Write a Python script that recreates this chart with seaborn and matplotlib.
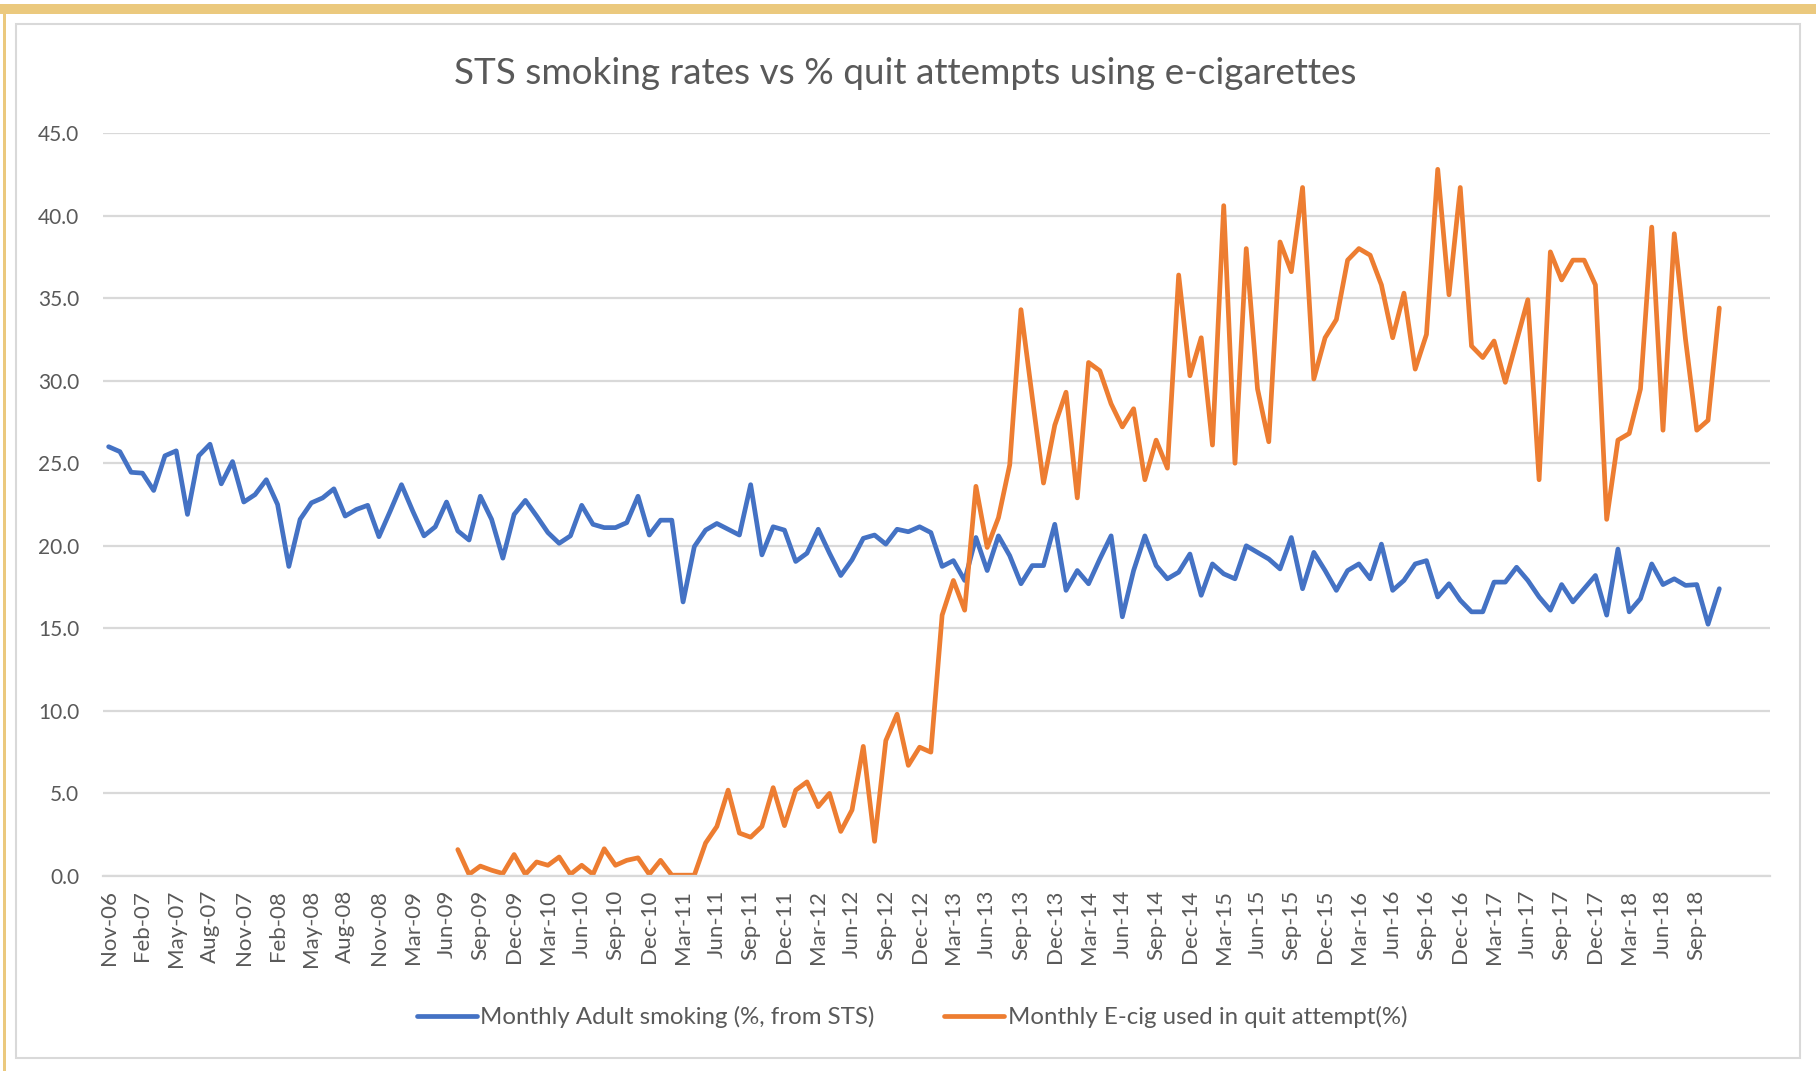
import numpy as np
import pandas as pd
import seaborn as sns
import matplotlib.pyplot as plt
from matplotlib.patches import Rectangle

# --- Data (monthly, Nov-06 .. Nov-18) ---
tick_labels = [
    "Nov-06", "Feb-07", "May-07", "Aug-07", "Nov-07", "Feb-08", "May-08", "Aug-08",
    "Nov-08", "Mar-09", "Jun-09", "Sep-09", "Dec-09", "Mar-10", "Jun-10", "Sep-10",
    "Dec-10", "Mar-11", "Jun-11", "Sep-11", "Dec-11", "Mar-12", "Jun-12", "Sep-12",
    "Dec-12", "Mar-13", "Jun-13", "Sep-13", "Dec-13", "Mar-14", "Jun-14", "Sep-14",
    "Dec-14", "Mar-15", "Jun-15", "Sep-15", "Dec-15", "Mar-16", "Jun-16", "Sep-16",
    "Dec-16", "Mar-17", "Jun-17", "Sep-17", "Dec-17", "Mar-18", "Jun-18", "Sep-18",
]

adult_smoking = [
    26.0, 25.7, 24.45, 24.4, 23.35, 25.45, 25.75, 21.9, 25.45, 26.15,
    23.75, 25.1, 22.65, 23.1, 24.0, 22.5, 18.75, 21.6, 22.6, 22.9,
    23.45, 21.8, 22.2, 22.45, 20.55, 22.1, 23.7, 22.1, 20.6, 21.15,
    22.65, 20.9, 20.35, 23.0, 21.6, 19.25, 21.9, 22.75, 21.8, 20.8,
    20.15, 20.6, 22.45, 21.3, 21.1, 21.1, 21.4, 23.0, 20.65, 21.55,
    21.55, 16.6, 19.95, 20.95, 21.35, 21.0, 20.65, 23.7, 19.45, 21.15,
    20.95, 19.05, 19.55, 21.0, 19.55, 18.2, 19.15, 20.45, 20.65, 20.1,
    21.0, 20.85, 21.15, 20.8, 18.75, 19.1, 17.9, 20.5, 18.5, 20.6,
    19.4, 17.7, 18.8, 18.8, 21.3, 17.3, 18.5, 17.7, 19.2, 20.6,
    15.7, 18.5, 20.6, 18.8, 18.0, 18.4, 19.5, 17.0, 18.9, 18.3,
    18.0, 20.0, 19.6, 19.2, 18.6, 20.5, 17.4, 19.6, 18.5, 17.3,
    18.5, 18.9, 18.0, 20.1, 17.3, 17.9, 18.9, 19.1, 16.9, 17.7,
    16.7, 16.0, 16.0, 17.8, 17.8, 18.7, 17.9, 16.9, 16.1, 17.65,
    16.6, 17.4, 18.2, 15.8, 19.8, 16.0, 16.8, 18.9, 17.65, 18.0,
    17.6, 17.65, 15.25, 17.4,
]

ecig_quit = [None] * 31 + [
    1.6, 0.1, 0.6, 0.35, 0.15, 1.3, 0.1, 0.85, 0.65, 1.15,
    0.1, 0.65, 0.1, 1.65, 0.65, 0.95, 1.1, 0.1, 0.95, 0.05,
    0.05, 0.05, 2.0, 3.0, 5.2, 2.6, 2.35, 3.0, 5.35, 3.05,
    5.2, 5.7, 4.2, 5.0, 2.7, 4.0, 7.85, 2.1, 8.2, 9.8,
    6.7, 7.8, 7.5, 15.8, 17.9, 16.1, 23.6, 19.9, 21.7, 24.9,
    34.3, 29.0, 23.8, 27.3, 29.3, 22.9, 31.1, 30.6, 28.6, 27.2,
    28.3, 24.0, 26.4, 24.7, 36.4, 30.3, 32.6, 26.1, 40.6, 25.0,
    38.0, 29.5, 26.3, 38.4, 36.6, 41.7, 30.1, 32.6, 33.7, 37.3,
    38.0, 37.6, 35.8, 32.6, 35.3, 30.7, 32.8, 42.8, 35.2, 41.7,
    32.1, 31.4, 32.4, 29.9, 32.4, 34.9, 24.0, 37.8, 36.1, 37.3,
    37.3, 35.8, 21.6, 26.4, 26.8, 29.5, 39.3, 27.0, 38.9, 32.5,
    27.0, 27.6, 34.4,
]

df = pd.DataFrame({
    "month": np.arange(len(adult_smoking)),
    "smoking": adult_smoking,
    "ecig": pd.array(ecig_quit, dtype="Float64").astype(float),
})

# --- Style ---
sns.set_theme(style="white")
plt.rcParams["font.family"] = ["Lato", "DejaVu Sans"]
text_grey = "#595959"
grid_grey = "#D9D9D9"
blue = "#4472C4"
orange = "#ED7D31"

W, H = 1816, 1071
fig = plt.figure(figsize=(W / 100, H / 100), dpi=100)

# page frame: gold band at the top, gold edge at left, light grey chart border
fig.add_artist(Rectangle((0, 1 - 14 / H), 1, 10 / H, transform=fig.transFigure,
                         color="#EBC97E", lw=0))
fig.add_artist(Rectangle((3 / W, 0), 3 / W, 1 - 14 / H, transform=fig.transFigure,
                         color="#EBC97E", lw=0))
fig.add_artist(Rectangle((16 / W, 1 - 1058 / H), (1800 - 16) / W, (1058 - 24) / H,
                         transform=fig.transFigure, fill=False,
                         edgecolor=grid_grey, lw=1.5))

ax = fig.add_axes([103 / W, 1 - 876 / H, (1770 - 103) / W, (876 - 133) / H])
ax.set_facecolor("none")

sns.lineplot(data=df, x="month", y="smoking", color=blue, lw=3.4, ax=ax,
             label="Monthly Adult smoking (%, from STS)")
sns.lineplot(data=df.dropna(subset=["ecig"]), x="month", y="ecig", color=orange,
             lw=3.4, ax=ax, label="Monthly E-cig used in quit attempt(%)")

ax.set_xlim(-0.5, 147.5)
ax.set_ylim(0, 45)
ax.set_xlabel("")
ax.set_ylabel("")

ax.set_yticks(np.arange(0, 46, 5))
ax.set_yticklabels([f"{v:.1f}" for v in np.arange(0, 46, 5)])
ax.yaxis.grid(True, color=grid_grey, lw=1.6)
ax.set_axisbelow(True)

ax.set_xticks(np.arange(0, 3 * len(tick_labels), 3))
ax.set_xticklabels(tick_labels, rotation=90)
ax.set_xticks(np.arange(-0.5, 148, 1), minor=True)

ax.tick_params(axis="y", length=0, pad=17, labelsize=15, labelcolor=text_grey)
ax.tick_params(axis="x", which="major", length=0, pad=10, labelsize=16,
               labelcolor=text_grey)
ax.tick_params(axis="x", which="minor", length=5, width=1.2, color=grid_grey,
               direction="out")

for side in ["top", "right", "left"]:
    ax.spines[side].set_visible(False)
ax.spines["bottom"].set_color(grid_grey)
ax.spines["bottom"].set_linewidth(1.6)

fig.text(905 / W, 1 - 74 / H, "STS smoking rates vs % quit attempts using e-cigarettes",
         ha="center", va="center", fontsize=26.6, color=text_grey)

handles, labels = ax.get_legend_handles_labels()
ax.get_legend().remove()
leg = fig.legend(handles, labels, loc="center", bbox_to_anchor=(912 / W, 1 - 1017 / H),
                 ncol=2, frameon=False, fontsize=17.3, handlelength=2.5,
                 handletextpad=0.15, columnspacing=2.9)
for t in leg.get_texts():
    t.set_color(text_grey)

fig.savefig("out.png", dpi=100)
